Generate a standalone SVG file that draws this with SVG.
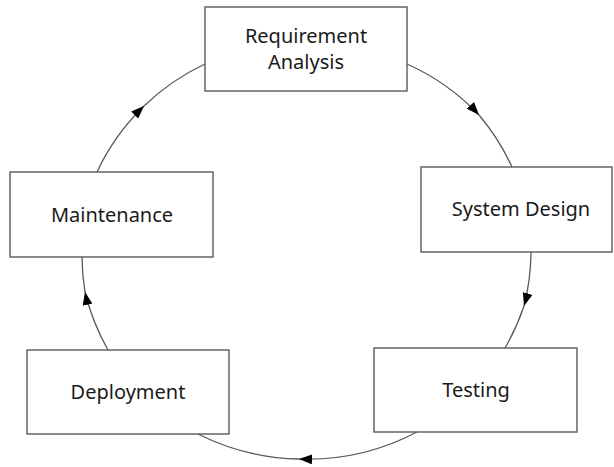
<svg xmlns="http://www.w3.org/2000/svg" width="614" height="467" viewBox="0 0 614 467">
<style>
.box{fill:#fff;stroke:#5a5a5a;stroke-width:1.4}
.lbl{font-family:"Noto Sans","Open Sans",sans-serif;font-size:20px;fill:#1a1a1a;text-anchor:middle}
.conn{fill:none;stroke:#5a5a5a;stroke-width:1.3;marker-mid:url(#arr)}
</style>
<defs>
<marker id="arr" viewBox="0 0 13 10" refX="13" refY="5" markerWidth="13" markerHeight="10" orient="auto" markerUnits="userSpaceOnUse">
<path d="M0,0 L13,5 L0,10 Z" fill="#000"/>
</marker>
</defs>
<rect width="614" height="467" fill="#fff"/>
<g id="connectors">
<path class="conn" d="M97,172 A225,225 0 0 1 144,106 A225,225 0 0 1 205,64"/>
<path class="conn" d="M407,64 A225,225 0 0 1 479,115 A225,225 0 0 1 512,167"/>
<path class="conn" d="M531,252 A225,225 0 0 1 524,306 A225,225 0 0 1 505,348"/>
<path class="conn" d="M417,432 A235,235 0 0 1 299,459 A235,235 0 0 1 198,434"/>
<path class="conn" d="M108,350 A225,225 0 0 1 85,292 A225,225 0 0 1 82,257"/>
</g>
<g id="requirement-analysis">
<rect class="box" x="205" y="7" width="202" height="84"/>
<text class="lbl" x="306" y="43">Requirement</text>
<text class="lbl" x="306" y="69">Analysis</text>
</g>
<g id="system-design">
<rect class="box" x="421" y="167" width="191" height="85"/>
<text class="lbl" x="521" y="216">System Design</text>
</g>
<g id="testing">
<rect class="box" x="374" y="348" width="203" height="84"/>
<text class="lbl" x="476" y="397">Testing</text>
</g>
<g id="deployment">
<rect class="box" x="27" y="350" width="202" height="84"/>
<text class="lbl" x="128" y="399">Deployment</text>
</g>
<g id="maintenance">
<rect class="box" x="10" y="172" width="203" height="85"/>
<text class="lbl" x="112" y="222">Maintenance</text>
</g>
</svg>
